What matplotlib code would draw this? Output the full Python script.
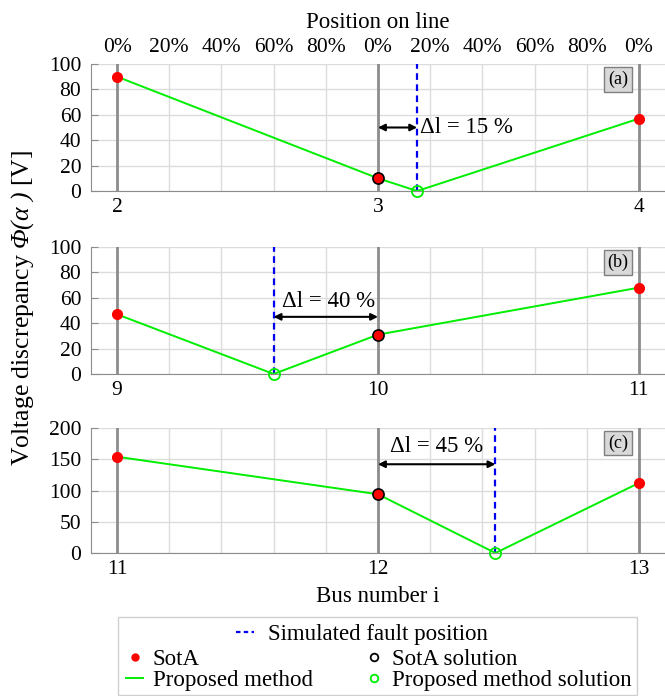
import numpy as np
import matplotlib.pyplot as plt
from matplotlib.lines import Line2D
from matplotlib.patches import Rectangle

plt.rcParams['font.family'] = 'Liberation Serif'
# mathtext only used for the italic Phi(alpha) in the y label
plt.rcParams['mathtext.fontset'] = 'custom'
plt.rcParams['mathtext.rm'] = 'Liberation Serif:italic'
plt.rcParams['mathtext.it'] = 'Liberation Serif:italic'
plt.rcParams['font.size'] = 15.5

# position along the lines: 0 = first bus, 1 = middle bus, 2 = last bus
bus_pos = [0, 1, 2]
buses_a = ['2', '3', '4']
buses_b = ['9', '10', '11']
buses_c = ['11', '12', '13']

# SotA values at the buses
sota_a = [90, 10, 57]
sota_b = [47, 31, 68]
sota_c = [154, 94, 112]
sota_sol = [1, 1, 1]  # index of the bus picked by SotA

# simulated fault positions
fault_a = 1.15
fault_b = 0.6
fault_c = 1.45

# proposed method curves
prop_x_a = [0, 1, 1.15, 2]
prop_y_a = [90, 10, 0, 57]
prop_x_b = [0, 0.6, 1, 2]
prop_y_b = [47, 0, 31, 68]
prop_x_c = [0, 1, 1.45, 2]
prop_y_c = [154, 94, 0, 112]

top_ticks = np.arange(0, 2.01, 0.2)
top_labels = ['0%', '20%', '40%', '60%', '80%', '0%', '20%', '40%', '60%', '80%', '0%']

fig = plt.figure(figsize=(6.65, 6.96), dpi=100)
W, H = 665, 696


def box(top, bottom):
    return [91 / W, 1 - bottom / H, 574 / W, (bottom - top) / H]


ax_a = fig.add_axes(box(64, 191))
ax_b = fig.add_axes(box(247, 374))
ax_c = fig.add_axes(box(428, 553))


def panel(ax, buses, sota, sol, fault, px, py, ymax, ystep, tag, arr_y, txt, txt_xy, txt_ha):
    ax.set_xlim(-0.1, 2.1)
    ax.set_ylim(0, ymax)
    ax.set_yticks(np.arange(0, ymax + 1, ystep))
    ax.set_xticks(bus_pos)
    ax.set_xticklabels(buses)
    ax.set_xticks(top_ticks, minor=True)
    ax.tick_params(axis='x', which='both', length=0, pad=5)
    ax.tick_params(axis='y', direction='in', length=5, color='#8c8c8c', pad=7)
    ax.grid(axis='y', color='#dcdcdc', lw=1)
    ax.grid(axis='x', which='minor', color='#dcdcdc', lw=1)
    for p in bus_pos:
        ax.axvline(p, color='#8c8c8c', lw=2, zorder=1)
    for s in ['top', 'right']:
        ax.spines[s].set_visible(False)
    for s in ['left', 'bottom']:
        ax.spines[s].set_color('#8c8c8c')
    ax.set_axisbelow(True)

    ax.axvline(fault, color='#0000ee', ls='--', lw=1.6, dashes=(3, 2), zorder=2)
    ax.plot(px, py, color='#00ee00', lw=1.4, zorder=3)
    ax.plot(bus_pos, sota, 'o', color='red', ms=7, zorder=4)
    ax.plot(bus_pos[sol], sota[sol], 'o', mfc='red', mec='black', mew=1.2, ms=8, zorder=5)
    ax.plot(fault, 0, 'o', mfc='none', mec='#00ee00', mew=1.3, ms=8, zorder=5, clip_on=False)

    ax.annotate('', xy=(fault, arr_y), xytext=(bus_pos[sol], arr_y),
                arrowprops=dict(arrowstyle='<|-|>', color='black', lw=1.5,
                                shrinkA=0, shrinkB=0, mutation_scale=10))
    ax.text(txt_xy[0], txt_xy[1], txt, ha=txt_ha, va='center', fontsize=16.5)
    ax.text(1.92, ymax * 0.88, tag, ha='center', va='center', fontsize=13,
            bbox=dict(boxstyle='square,pad=0.2', fc='#d9d9d9', ec='#7f7f7f', lw=1))


panel(ax_a, buses_a, sota_a, sota_sol[0], fault_a, prop_x_a, prop_y_a, 100, 20, '(a)',
      50, 'Δl = 15 %', (1.16, 50), 'left')
panel(ax_b, buses_b, sota_b, sota_sol[1], fault_b, prop_x_b, prop_y_b, 100, 20, '(b)',
      45, 'Δl = 40 %', (0.81, 57), 'center')
panel(ax_c, buses_c, sota_c, sota_sol[2], fault_c, prop_x_c, prop_y_c, 200, 50, '(c)',
      142, 'Δl = 45 %', (1.225, 170), 'center')

top = ax_a.secondary_xaxis('top')
top.set_xticks(top_ticks)
top.set_xticklabels(top_labels)
top.tick_params(length=0, pad=5)
top.spines['top'].set_visible(False)
top.set_xlabel('Position on line', labelpad=7, fontsize=16.5)

ax_c.set_xlabel('Bus number i', labelpad=5, fontsize=16.5)
fig.text(0.034, 1 - 308 / H,
         r'Voltage discrepancy $\mathrm{Φ(α\ )}$ [V]',
         rotation=90, ha='center', va='center', fontsize=18.5)

# legend
fig.patches.append(Rectangle((118 / W, 1 - 695 / H), 519 / W, 78 / H,
                             transform=fig.transFigure, fc='white', ec='#d0d0d0', lw=1))
h_fault = Line2D([], [], color='#0000ee', ls='--', lw=1.6, dashes=(2, 1.5))
h_sota = Line2D([], [], ls='none', marker='o', color='red', ms=5)
h_prop = Line2D([], [], color='#00ee00', lw=1.4)
h_sol = Line2D([], [], ls='none', marker='o', mfc='none', mec='black', mew=1.3, ms=5.5)
h_psol = Line2D([], [], ls='none', marker='o', mfc='none', mec='#00ee00', mew=1.3, ms=5.5)

fig.legend([h_fault], ['Simulated fault position'], loc='center',
           bbox_to_anchor=(362 / W, 1 - 634 / H), frameon=False, handlelength=0.8,
           handletextpad=0.6, borderpad=0, fontsize=16.5)
fig.legend([h_sota, h_prop, h_sol, h_psol],
           ['SotA', 'Proposed method', 'SotA solution', 'Proposed method solution'],
           ncol=2, loc='center', bbox_to_anchor=(379 / W, 1 - 670 / H), frameon=False,
           handlelength=0.7, handletextpad=0.45, columnspacing=2.3, labelspacing=0.0,
           borderpad=0, fontsize=16.5)

fig.savefig('out.png', dpi=100)
